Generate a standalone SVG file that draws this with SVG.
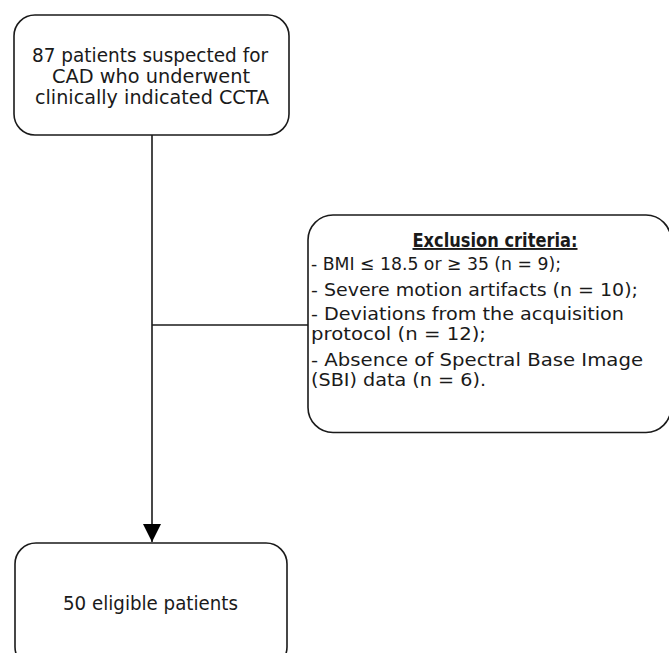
<svg xmlns="http://www.w3.org/2000/svg" width="669" height="653" viewBox="0 0 669 653">
<style>
.box{fill:#fff;stroke:#1a1a1a;stroke-width:1.6}
.ln{fill:none;stroke:#1a1a1a;stroke-width:1.6}
text{font-family:"DejaVu Sans","Liberation Sans",sans-serif;font-size:19px;fill:#1a1a1a}
.e{font-size:18px}
.c{text-anchor:middle}
.h{font-weight:bold;text-decoration:underline}
</style>
<defs>
<marker id="ah" markerWidth="20" markerHeight="18" refX="20" refY="10" orient="auto" markerUnits="userSpaceOnUse" viewBox="0 0 20 20">
<path d="M0,0 L20,10 L0,20 Z" fill="#000"/>
</marker>
</defs>
<g id="connectors">
<line class="ln" x1="152" y1="135" x2="152" y2="542" marker-end="url(#ah)"/>
<line class="ln" x1="152" y1="325" x2="308" y2="325"/>
</g>
<g id="node-start">
<rect class="box" x="14" y="15" width="275" height="120" rx="21"/>
<text class="c" x="150" y="62" textLength="236" lengthAdjust="spacingAndGlyphs">87 patients suspected for</text>
<text class="c" x="151" y="83" textLength="198" lengthAdjust="spacingAndGlyphs">CAD who underwent</text>
<text class="c" x="152" y="104" textLength="234" lengthAdjust="spacingAndGlyphs">clinically indicated CCTA</text>
</g>
<g id="node-exclusion">
<rect class="box" x="308" y="215" width="363" height="217.5" rx="25"/>
<text class="c h" x="495" y="247" textLength="165" lengthAdjust="spacingAndGlyphs">Exclusion criteria:</text>
<text class="e" x="311" y="270" textLength="250" lengthAdjust="spacingAndGlyphs">- BMI ≤ 18.5 or ≥ 35 (n = 9);</text>
<text class="e" x="311" y="296" textLength="327" lengthAdjust="spacingAndGlyphs">- Severe motion artifacts (n = 10);</text>
<text class="e" x="311" y="320" textLength="313" lengthAdjust="spacingAndGlyphs">- Deviations from the acquisition</text>
<text class="e" x="311" y="340" textLength="175" lengthAdjust="spacingAndGlyphs">protocol (n = 12);</text>
<text class="e" x="311" y="366" textLength="332" lengthAdjust="spacingAndGlyphs">- Absence of Spectral Base Image</text>
<text class="e" x="311" y="386" textLength="175" lengthAdjust="spacingAndGlyphs">(SBI) data (n = 6).</text>
</g>
<g id="node-eligible">
<rect class="box" x="15" y="543" width="272" height="125" rx="21"/>
<text class="c" x="150.5" y="610" textLength="175" lengthAdjust="spacingAndGlyphs">50 eligible patients</text>
</g>
</svg>
